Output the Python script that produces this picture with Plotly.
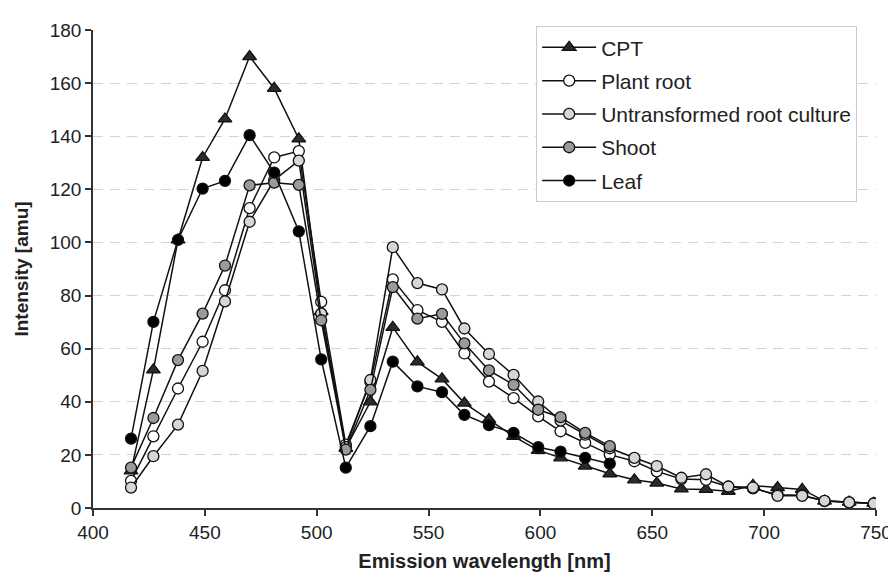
import plotly.graph_objects as go

wavelength = [417, 427, 438, 449, 459, 470, 481, 492, 502, 513, 524, 534, 545, 556, 566, 577,
              588, 599, 609, 620, 631, 642, 652, 663, 674, 684, 695, 706, 717, 727, 738, 749]

cpt = [14, 52, 101, 132, 146.5, 170, 158, 139, 74, 22.5, 40, 68, 55, 48.6, 39.5, 33.3,
       27, 21.7, 18.9, 15.8, 12.9, 10.6, 9.4, 7.2, 7, 6.3, 8.5, 7.7, 7, 2.6, 2.2, 1.8]
plant_root = [10.2, 27, 45, 62.6, 82, 112.9, 132, 134.4, 77.6, 23.9, 47.5, 86.1, 74.5, 70.1, 58.2, 47.6,
              41.4, 34.5, 28.9, 24.5, 20.1, 17.6, 13.8, 10.9, 10.6, 8, 7.4, 5, 4.8, 2.6, 2.1, 1.7]
untransformed = [7.7, 19.5, 31.4, 51.6, 77.8, 107.8, 123.5, 130.8, 73.2, 22.9, 48.2, 98.2, 84.7, 82.3, 67.6, 58,
                 50.1, 40.1, 32.9, 27.6, 22.5, 18.9, 15.8, 11.4, 12.7, 8.1, 7.7, 4.6, 4.6, 2.7, 2.1, 1.7]
shoot = [15.2, 33.9, 55.7, 73.2, 91.3, 121.5, 122.5, 121.7, 70.7, 22, 44.5, 83.2, 71.3, 73.1, 62, 51.8,
         46.4, 37, 34.2, 28.3, 23.3]
leaf = [26.1, 70.1, 101, 120.3, 123.2, 140.4, 126.3, 104.2, 56, 15.2, 30.8, 55.1, 45.8, 43.6, 35.1, 31.2,
        28.3, 22.9, 21.2, 18.9, 16.7]

x_ticks = [400, 450, 500, 550, 600, 650, 700, 750]
y_ticks = [0, 20, 40, 60, 80, 100, 120, 140, 160, 180]

series = [
    ("CPT", cpt, "triangle-up", "#2b2b2b", 12),
    ("Plant root", plant_root, "circle", "#ffffff", 11),
    ("Untransformed root culture", untransformed, "circle", "#d6d6d6", 11),
    ("Shoot", shoot, "circle", "#9a9a9a", 11),
    ("Leaf", leaf, "circle", "#000000", 11),
]

fig = go.Figure()
for name, vals, sym, col, sz in series:
    fig.add_trace(go.Scatter(
        x=wavelength[:len(vals)], y=vals, mode="lines+markers", name=name,
        legendgroup=name,
        line=dict(color="#111111", width=1.5),
        marker=dict(symbol=sym, size=sz, color=col, line=dict(color="#111111", width=1.3)),
    ))

font_family = "Liberation Sans, Arial, sans-serif"
fig.update_layout(
    width=896, height=573,
    margin=dict(l=84, r=19, t=18, b=72),
    paper_bgcolor="white", plot_bgcolor="white",
    font=dict(family=font_family, color="#222222", size=19),
    legend=dict(
        x=0.566, y=1.008, xanchor="left", yanchor="top",
        bgcolor="white", bordercolor="#cccccc", borderwidth=1,
        font=dict(size=21, color="#222222"),
        traceorder="grouped", tracegroupgap=3,
        itemwidth=54,
    ),
    xaxis=dict(
        range=[400, 750], tickvals=x_ticks, ticktext=[str(v) for v in x_ticks],
        showgrid=False, zeroline=False,
        showline=True, linecolor="#333333", linewidth=1.5,
        ticks="outside", ticklen=6, tickcolor="#333333", tickwidth=1.5,
        tickfont=dict(size=19, color="#222222"),
        title=dict(text="<b>Emission wavelength [nm]</b>", font=dict(size=20, color="#222222"), standoff=12),
    ),
    yaxis=dict(
        range=[0, 180], tickvals=y_ticks, ticktext=[str(v) for v in y_ticks],
        showgrid=True, gridcolor="#d4d4d4", griddash="10px,7px", gridwidth=1,
        zeroline=False,
        showline=True, linecolor="#333333", linewidth=1.5,
        ticks="outside", ticklen=6, tickcolor="#333333", tickwidth=1.5,
        tickfont=dict(size=19, color="#222222"),
        title=dict(text="<b>Intensity [amu]</b>", font=dict(size=19, color="#222222"), standoff=16),
    ),
)

fig.write_html("out.html")
